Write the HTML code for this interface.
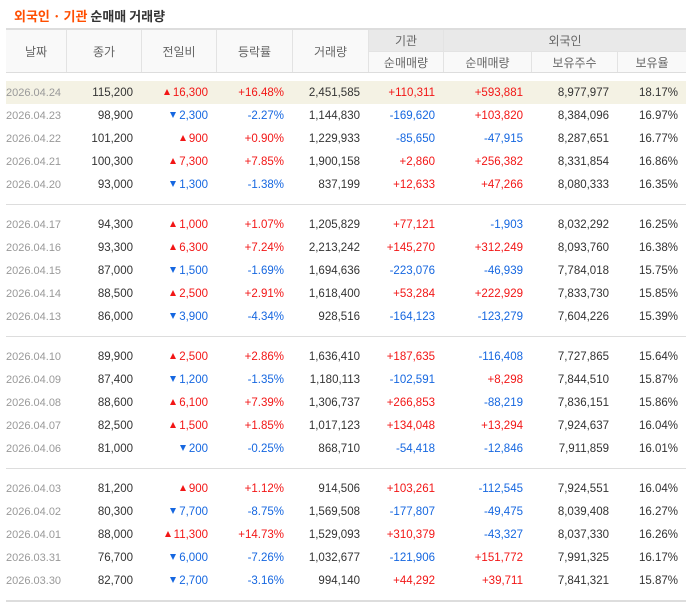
<!DOCTYPE html>
<html><head><meta charset="utf-8"><style>
*{margin:0;padding:0;box-sizing:border-box}
body{width:693px;height:608px;background:#fff;font-family:"Liberation Sans","Noto Sans CJK KR",sans-serif;position:relative;overflow:hidden}
.title{position:absolute;left:14px;top:6px;font-size:13px;font-weight:bold;color:#333;font-family:"Noto Sans CJK KR",sans-serif;letter-spacing:0}
.title span{color:#ff4e00}
.hd{position:absolute;left:6px;top:28px;width:680px;height:45px;border-top:2px solid #ddd;border-bottom:1px solid #ddd;background:#f9f9f9}
.hc{position:absolute;font-family:"Noto Sans CJK KR",sans-serif;font-size:12px;color:#666;text-align:center;display:flex;align-items:center;justify-content:center;border-left:1px solid #e3e3e3}
.row{position:absolute;left:6px;width:680px;height:23px;display:flex;align-items:center;font-size:11.5px;color:#333}
.row div{text-align:right;padding-right:8px;white-space:nowrap}
.hl{background:#f4f2e4}
.d{color:#999;font-size:11px}
.r{color:#f21616}.b{color:#1667e0}
.up,.dn{display:inline-block;width:0;height:0;border-left:3.5px solid transparent;border-right:3.5px solid transparent;margin-right:3px;vertical-align:1px}
.up{border-bottom:6px solid #f21616}
.dn{border-top:6px solid #1667e0}
.sep{position:absolute;left:6px;width:680px;height:1px;background:#ddd}
</style></head><body>
<div class="title"><span>외국인 · 기관</span> 순매매 거래량</div>
<div class="hd">
<div class="hc" style="left:0;top:0;width:60px;height:42px;border-left:none">날짜</div>
<div class="hc" style="left:60px;top:0;width:75px;height:42px">종가</div>
<div class="hc" style="left:135px;top:0;width:75px;height:42px">전일비</div>
<div class="hc" style="left:210px;top:0;width:76px;height:42px">등락률</div>
<div class="hc" style="left:286px;top:0;width:76px;height:42px">거래량</div>
<div class="hc" style="left:362px;top:0;width:75px;height:21px;background:#e9e9e9;color:#666">기관</div>
<div class="hc" style="left:437px;top:0;width:243px;height:21px;background:#e9e9e9;color:#666">외국인</div>
<div class="hc" style="left:362px;top:21px;width:75px;height:21px;border-top:1px solid #e3e3e3">순매매량</div>
<div class="hc" style="left:437px;top:21px;width:88px;height:21px;border-top:1px solid #e3e3e3">순매매량</div>
<div class="hc" style="left:525px;top:21px;width:86px;height:21px;border-top:1px solid #e3e3e3">보유주수</div>
<div class="hc" style="left:611px;top:21px;width:69px;height:21px;border-top:1px solid #e3e3e3">보유율</div>
</div>
<div id="rows"></div>
<div class="sep" style="top:204px"></div>
<div class="sep" style="top:336px"></div>
<div class="sep" style="top:468px"></div>
<div class="sep" style="top:600px;height:2px"></div>
<script>
var D=[
["2026.04.24","115,200",1,"16,300","+16.48%","2,451,585","+110,311","+593,881","8,977,977","18.17%"],
["2026.04.23","98,900",0,"2,300","-2.27%","1,144,830","-169,620","+103,820","8,384,096","16.97%"],
["2026.04.22","101,200",1,"900","+0.90%","1,229,933","-85,650","-47,915","8,287,651","16.77%"],
["2026.04.21","100,300",1,"7,300","+7.85%","1,900,158","+2,860","+256,382","8,331,854","16.86%"],
["2026.04.20","93,000",0,"1,300","-1.38%","837,199","+12,633","+47,266","8,080,333","16.35%"],
["2026.04.17","94,300",1,"1,000","+1.07%","1,205,829","+77,121","-1,903","8,032,292","16.25%"],
["2026.04.16","93,300",1,"6,300","+7.24%","2,213,242","+145,270","+312,249","8,093,760","16.38%"],
["2026.04.15","87,000",0,"1,500","-1.69%","1,694,636","-223,076","-46,939","7,784,018","15.75%"],
["2026.04.14","88,500",1,"2,500","+2.91%","1,618,400","+53,284","+222,929","7,833,730","15.85%"],
["2026.04.13","86,000",0,"3,900","-4.34%","928,516","-164,123","-123,279","7,604,226","15.39%"],
["2026.04.10","89,900",1,"2,500","+2.86%","1,636,410","+187,635","-116,408","7,727,865","15.64%"],
["2026.04.09","87,400",0,"1,200","-1.35%","1,180,113","-102,591","+8,298","7,844,510","15.87%"],
["2026.04.08","88,600",1,"6,100","+7.39%","1,306,737","+266,853","-88,219","7,836,151","15.86%"],
["2026.04.07","82,500",1,"1,500","+1.85%","1,017,123","+134,048","+13,294","7,924,637","16.04%"],
["2026.04.06","81,000",0,"200","-0.25%","868,710","-54,418","-12,846","7,911,859","16.01%"],
["2026.04.03","81,200",1,"900","+1.12%","914,506","+103,261","-112,545","7,924,551","16.04%"],
["2026.04.02","80,300",0,"7,700","-8.75%","1,569,508","-177,807","-49,475","8,039,408","16.27%"],
["2026.04.01","88,000",1,"11,300","+14.73%","1,529,093","+310,379","-43,327","8,037,330","16.26%"],
["2026.03.31","76,700",0,"6,000","-7.26%","1,032,677","-121,906","+151,772","7,991,325","16.17%"],
["2026.03.30","82,700",0,"2,700","-3.16%","994,140","+44,292","+39,711","7,841,321","15.87%"]];
var W=[60,75,75,76,76,75,88,86,69],h="";
function c(s){return s[0]=="+"?"r":(s[0]=="-"?"b":"")}
D.forEach(function(r,i){var g=Math.floor(i/5),t=81+g*132+(i%5)*23;
h+='<div class="row'+(i==0?' hl':'')+'" style="top:'+t+'px">'+
'<div class="d" style="width:'+W[0]+'px;padding-right:5px">'+r[0]+'</div>'+
'<div style="width:'+W[1]+'px">'+r[1]+'</div>'+
'<div class="'+(r[2]?'r':'b')+'" style="width:'+W[2]+'px"><span class="'+(r[2]?'up':'dn')+'"></span>'+r[3]+'</div>'+
'<div class="'+c(r[4])+'" style="width:'+W[3]+'px">'+r[4]+'</div>'+
'<div style="width:'+W[4]+'px">'+r[5]+'</div>'+
'<div class="'+c(r[6])+'" style="width:'+W[5]+'px">'+r[6]+'</div>'+
'<div class="'+c(r[7])+'" style="width:'+W[6]+'px">'+r[7]+'</div>'+
'<div style="width:'+W[7]+'px">'+r[8]+'</div>'+
'<div style="width:'+W[8]+'px">'+r[9]+'</div></div>';});
document.getElementById("rows").innerHTML=h;
</script>
</body></html>
